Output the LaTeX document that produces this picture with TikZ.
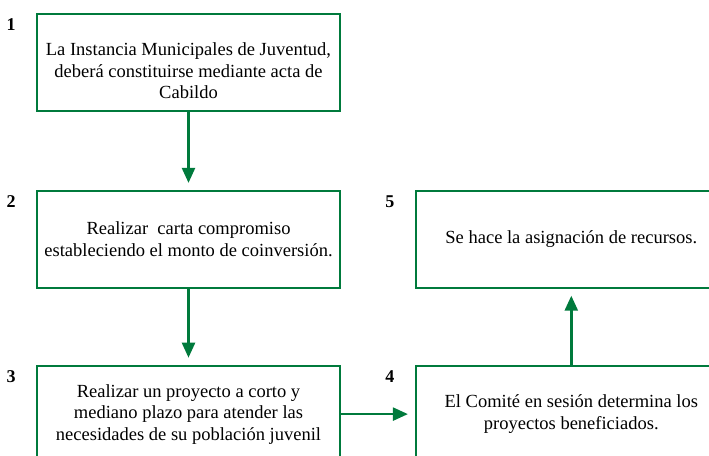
\documentclass[tikz,border=0pt]{standalone}
\usepackage{fontspec}
\setmainfont{Liberation Serif}
\usetikzlibrary{arrows.meta, positioning}
\definecolor{stepgreen}{RGB}{0,122,60}

\begin{document}
\begin{tikzpicture}[
  font=\fontsize{18.5}{21.5}\selectfont,
  box/.style={draw=stepgreen, line width=1.8pt, align=center, inner sep=4pt,
              minimum width=303pt, minimum height=97pt},
  widebox/.style={box, minimum width=311pt},
  num/.style={font=\fontsize{18}{20}\selectfont\bfseries},
  arr/.style={-{Triangle[length=15pt, width=13pt]}, line width=2.4pt,
              draw=stepgreen, fill=stepgreen, shorten >=7pt},
  node distance=78pt and 74pt]

  \useasboundingbox (0,0) rectangle (709pt,-455pt);

  % left column
  \node[box] at (188.5pt,-62.5pt)
    (s1) {\mbox{}\\[8pt]La Instancia Municipales de Juventud,\\ deberá constituirse mediante acta de\\ Cabildo};
  \node[box, below=of s1]
    (s2) {Realizar\ \ carta compromiso\\ estableciendo el monto de coinversión.};
  \node[box, below=76pt of s2]
    (s3) {Realizar un proyecto a corto y\\ mediano plazo para atender las\\ necesidades de su población juvenil};

  % right column
  \node[widebox, right=of s3.east, anchor=west]
    (s4) {El Comité en sesión determina los\\ proyectos beneficiados.};
  \node[widebox, above=76pt of s4]
    (s5) {Se hace la asignación de recursos.};

  % step numbers
  \foreach \s/\n in {s1/1, s2/2, s3/3, s4/4, s5/5}
    \node[num, below left=2pt and 17pt of \s.north west] (n\n) {\n};

  % flows
  \draw[arr] (s1) -- (s2);
  \draw[arr] (s2) -- (s3);
  \draw[arr] (s3) -- (s4);
  \draw[arr] (s4) -- (s5);
\end{tikzpicture}
\end{document}
